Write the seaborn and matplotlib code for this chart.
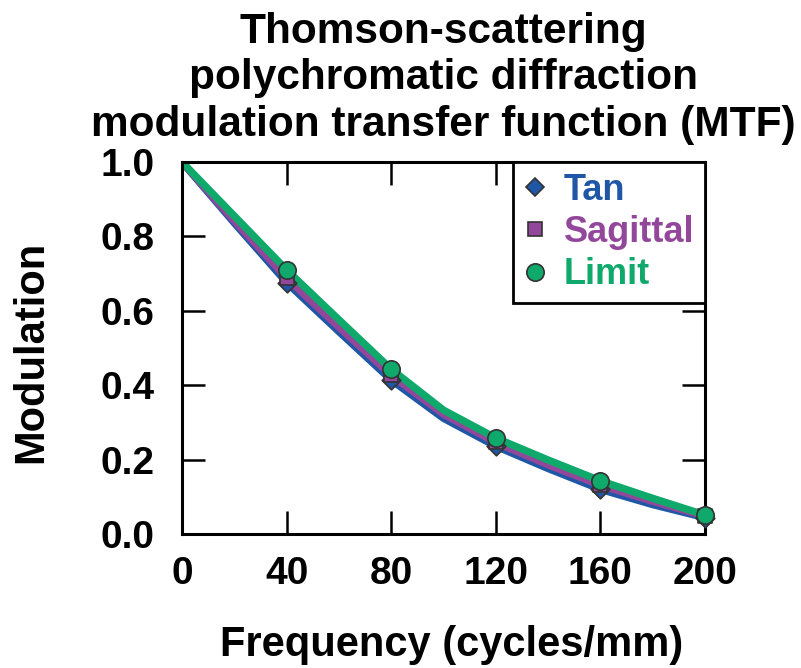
import numpy as np
import pandas as pd
import matplotlib
matplotlib.use("Agg")
import matplotlib.pyplot as plt
import seaborn as sns
from matplotlib.lines import Line2D

# curve samples (cycles/mm -> modulation)
freq_curve = [0, 20, 40, 60, 80, 100, 120, 140, 160, 180, 200]
tan_curve = [1.0, 0.836, 0.676, 0.544, 0.414, 0.311, 0.236, 0.176, 0.120, 0.079, 0.044]
sag_curve = [1.0, 0.842, 0.688, 0.556, 0.427, 0.322, 0.246, 0.186, 0.131, 0.088, 0.048]
limit_curve = [1.0, 0.855, 0.710, 0.576, 0.443, 0.333, 0.258, 0.199, 0.143, 0.096, 0.051]

# marker points
freq_marks = [40, 80, 120, 160, 200]
tan_marks = [0.676, 0.414, 0.236, 0.120, 0.044]
sag_marks = [0.688, 0.427, 0.246, 0.131, 0.048]
limit_marks = [0.710, 0.443, 0.258, 0.143, 0.051]

series_names = ["Tan", "Sagittal", "Limit"]
x_ticks = [0, 40, 80, 120, 160, 200]
y_ticks = [0.0, 0.2, 0.4, 0.6, 0.8, 1.0]

colors = {"Tan": "#1f56a5", "Sagittal": "#93479b", "Limit": "#0fa96b"}
markers = {"Tan": "D", "Sagittal": "s", "Limit": "o"}
msizes = {"Tan": 9.5, "Sagittal": 10.5, "Limit": 12.5}

sns.set_theme(style="ticks")
plt.rcParams["font.family"] = ["Liberation Sans", "DejaVu Sans"]
plt.rcParams["font.weight"] = "bold"
plt.rcParams["text.color"] = "black"
plt.rcParams["axes.labelcolor"] = "black"

fig = plt.figure(figsize=(8.01, 6.68), dpi=100)
ax = fig.add_axes([182 / 801, 1 - 534 / 668, 523 / 801, 372 / 668])

curves = {"Tan": tan_curve, "Sagittal": sag_curve, "Limit": limit_curve}
marks = {"Tan": tan_marks, "Sagittal": sag_marks, "Limit": limit_marks}

for name in series_names:
    sns.lineplot(x=freq_curve, y=curves[name], color=colors[name], lw=5.3,
                 ax=ax, zorder=2, solid_capstyle="butt")

for name in series_names:
    sns.scatterplot(x=freq_marks, y=marks[name], color=colors[name],
                    marker=markers[name], s=msizes[name] ** 2,
                    edgecolor="#333333", linewidth=1.2, ax=ax, zorder=3,
                    clip_on=False)

ax.set_xlim(0, 200)
ax.set_ylim(0, 1.0)
ax.set_xticks(x_ticks)
ax.set_yticks(y_ticks)
ax.set_yticklabels([f"{v:.1f}" for v in y_ticks])

for sp in ax.spines.values():
    sp.set_visible(True)
    sp.set_linewidth(2.2)
    sp.set_color("black")

ax.tick_params(direction="in", length=16.5, width=1.8, top=True, right=True,
               labelsize=28, colors="black")
ax.tick_params(axis="x", pad=16)
ax.tick_params(axis="y", pad=20)
for lab in ax.get_xticklabels() + ax.get_yticklabels():
    lab.set_fontweight("bold")

ax.set_xlabel("Frequency (cycles/mm)", fontsize=30, fontweight="bold", color="black")
ax.set_ylabel("Modulation", fontsize=30, fontweight="bold", color="black")
ax.xaxis.set_label_coords(0.515, -0.245)
ax.yaxis.set_label_coords(-0.25, 0.49)

ax.set_title("Thomson-scattering\npolychromatic diffraction\nmodulation transfer function (MTF)",
             fontsize=30.5, fontweight="bold", linespacing=1.2, pad=19, color="black")

handles = [Line2D([], [], linestyle="none", marker=markers[n], color=colors[n],
                  markersize=msizes[n], markeredgecolor="#333333",
                  markeredgewidth=1.2) for n in series_names]
leg = ax.legend(handles, series_names, loc="upper right", bbox_to_anchor=(1, 1),
                borderaxespad=0, frameon=True, fancybox=False, framealpha=1,
                handlelength=0.6, handletextpad=0.5, labelspacing=0.2,
                borderpad=0.3, prop={"weight": "bold", "size": 26})
leg.get_frame().set_edgecolor("black")
leg.get_frame().set_linewidth(2)
for txt, n in zip(leg.get_texts(), series_names):
    txt.set_color(colors[n])

fig.savefig("out.png", dpi=100)
